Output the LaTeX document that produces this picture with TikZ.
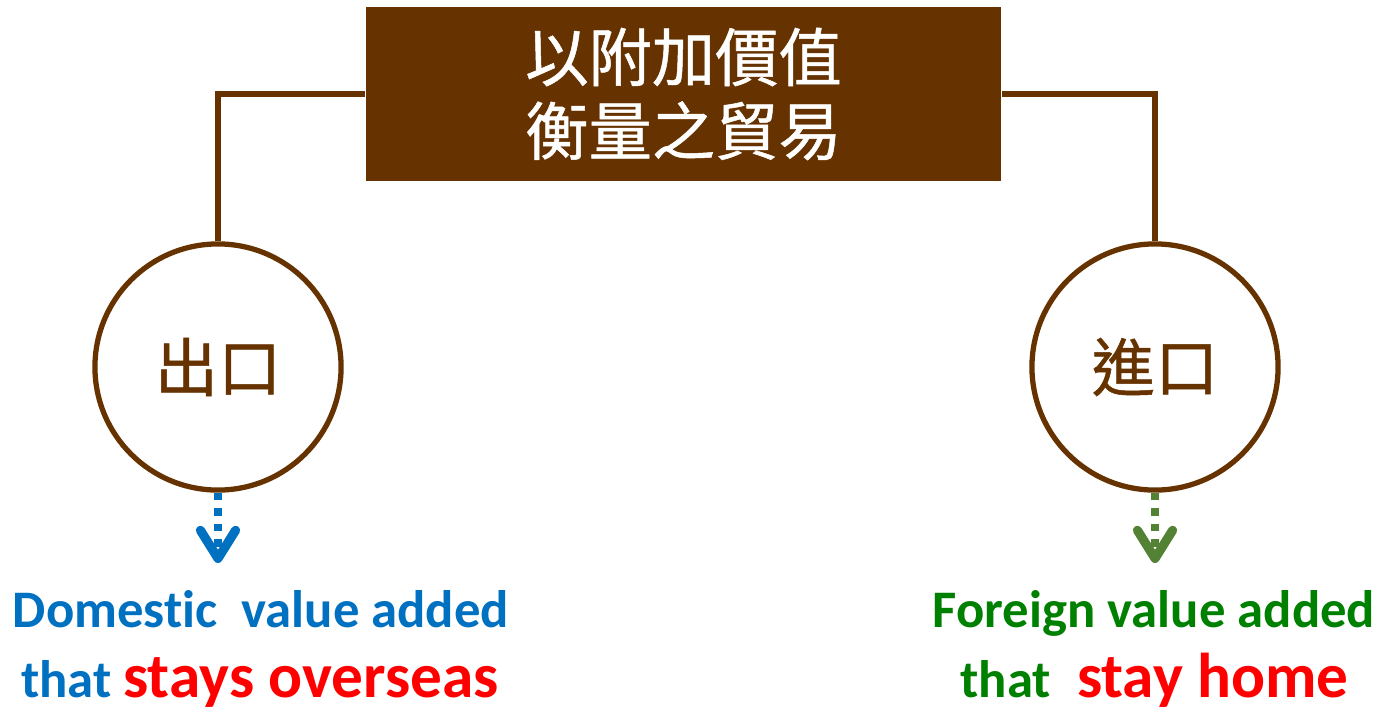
\documentclass[tikz,border=0pt]{standalone}
\usepackage{fontspec}
\setmainfont[Ligatures=NoCommon]{Carlito}
\newfontfamily\cjk[FakeBold=0.8]{Noto Sans CJK TC}
\usetikzlibrary{arrows.meta}
\definecolor{boxbrown}{HTML}{663300}
\definecolor{dvblue}{HTML}{0070C0}
\definecolor{fvgreen}{HTML}{008000}
\definecolor{arrgreen}{HTML}{548235}
\tikzset{titlebox/.style={fill=boxbrown,text=white,inner sep=0pt,
   minimum width=6.35cm,minimum height=1.74cm,align=center,
   font=\cjk\fontsize{18}{21}\selectfont},
 tradecircle/.style={circle,draw=boxbrown,line width=1.5pt,
   minimum size=2.46cm,text=boxbrown,font=\cjk\fontsize{18}{21}\selectfont},
 link/.style={draw=boxbrown,line width=1.7pt},
 dotarrow/.style={line width=2.1pt,dash pattern=on 2.1pt off 2.3pt,
   -{Straight Barb[round,line width=2.6pt,length=8pt,width=10pt]}},
 vatext/.style={anchor=base,inner sep=0pt,font=\bfseries\fontsize{15}{18}\selectfont},
 }

\begin{document}
\begin{tikzpicture}[x=0.01cm,y=-0.01cm]
        \useasboundingbox (0,0) rectangle (1383,712);
        % title and the two sides
        \node[titlebox] (title) at (683.5,94) {以附加價值\\衡量之貿易};
        \node[tradecircle] (export) at (218,367) {出口};
        \node[tradecircle] (import) at (1155,367) {進口};
        \draw[link] (title.west) -| (export.north);
        \draw[link] (title.east) -| (import.north);
        % arrows down to the texts
        \coordinate (exportend) at (218,563);
        \coordinate (importend) at (1155,563);
        \draw[dotarrow,dvblue] (export.south) -- (exportend);
        \draw[dotarrow,arrgreen] (import.south) -- (importend);
        \node[vatext,text=dvblue] (dva) at (261,627) {Domestic\ \ value added};
        \node[vatext,text=dvblue] (dvastay) at (260,697)
            {that {\color{red}\fontsize{18}{20}\selectfont stays overseas}};
        \node[vatext,text=fvgreen] (fva) at (1154,627) {Foreign value added};
        \node[vatext,text=fvgreen] (fvastay) at (1154.5,697)
            {that {\color{red}\fontsize{18}{20}\selectfont\ stay home}};
    \end{tikzpicture}
\end{document}
